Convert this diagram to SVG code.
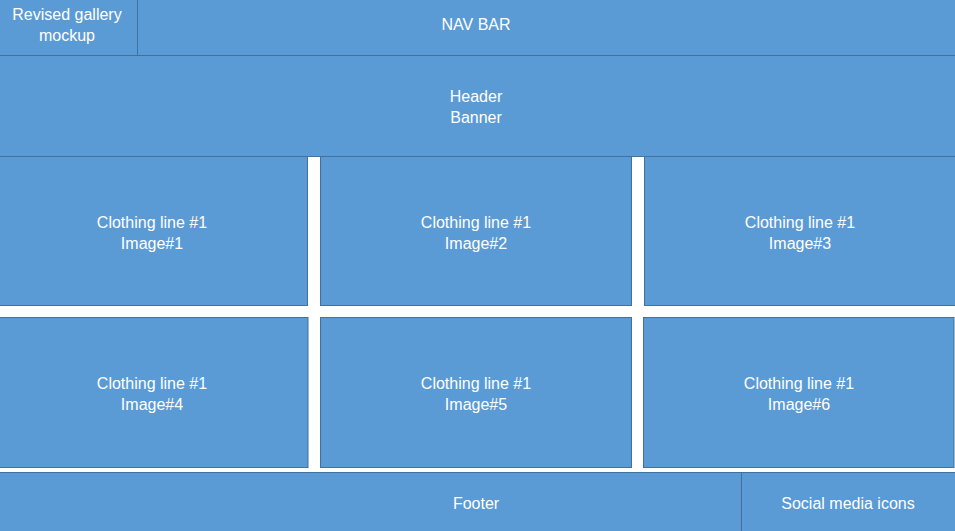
<svg xmlns="http://www.w3.org/2000/svg" width="955" height="531" viewBox="0 0 955 531">
<style>
.b{fill:#5B9BD5;stroke:#41719C;stroke-width:1}
.t{fill:#FFFFFF;font-family:"Liberation Sans",Arial,sans-serif;font-size:16px;text-anchor:middle}
</style>
<rect x="0" y="0" width="955" height="531" fill="#FFFFFF"/>
<g id="navbar"><rect class="b" x="-1" y="-1" width="957" height="56.5"/><text class="t" x="476" y="29.5">NAV BAR</text></g>
<g id="title"><rect class="b" x="-1" y="-1" width="138.5" height="56.5"/><text class="t" x="67" y="19.5">Revised gallery</text><text class="t" x="67" y="40.5">mockup</text></g>
<g id="header"><rect class="b" x="-1" y="55.5" width="957" height="101"/><text class="t" x="476" y="101.5">Header</text><text class="t" x="476" y="123">Banner</text></g>
<g id="img1"><rect class="b" x="-1" y="156.5" width="308.5" height="149"/><text class="t" x="152" y="227.5">Clothing line #1</text><text class="t" x="152" y="249">Image#1</text></g>
<g id="img2"><rect class="b" x="320.5" y="156.5" width="311" height="149"/><text class="t" x="476" y="227.5">Clothing line #1</text><text class="t" x="476" y="249">Image#2</text></g>
<g id="img3"><rect class="b" x="644.5" y="156.5" width="311.5" height="149"/><text class="t" x="800" y="227.5">Clothing line #1</text><text class="t" x="800" y="249">Image#3</text></g>
<g id="img4"><rect class="b" x="-1" y="317.5" width="309" height="150"/><text class="t" x="152" y="388.5">Clothing line #1</text><text class="t" x="152" y="410">Image#4</text></g>
<g id="img5"><rect class="b" x="320.5" y="317.5" width="311" height="150"/><text class="t" x="476" y="388.5">Clothing line #1</text><text class="t" x="476" y="410">Image#5</text></g>
<g id="img6"><rect class="b" x="643.5" y="317.5" width="310.5" height="150"/><text class="t" x="799" y="388.5">Clothing line #1</text><text class="t" x="799" y="410">Image#6</text></g>
<g id="footer"><rect class="b" x="-1" y="472.5" width="957" height="60"/><text class="t" x="476" y="508.5">Footer</text></g>
<g id="social"><rect class="b" x="741.5" y="472.5" width="214.5" height="60"/><text class="t" x="848" y="508.5">Social media icons</text></g>
<g id="connectors"></g>
</svg>
